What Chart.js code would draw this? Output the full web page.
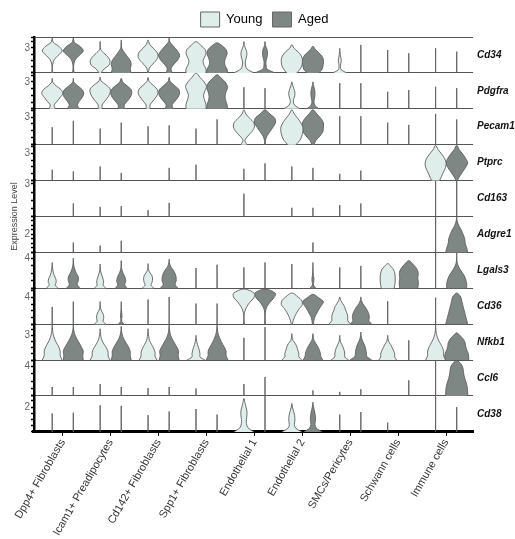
<!DOCTYPE html>
<html>
<head>
<meta charset="utf-8">
<script src="https://cdn.jsdelivr.net/npm/chart.js@4.4.1/dist/chart.umd.min.js"></script>
<style>
  html, body { margin: 0; padding: 0; background: #fff; }
</style>
</head>
<body>
<canvas id="violinChart" width="515" height="539"></canvas>
<script>
// stacked violin plot, young vs aged

var categories = ["Dpp4+ Fibroblasts", "Icam1+ Preadipocytes", "Cd142+ Fibroblasts", "Spp1+ Fibroblasts",
    "Endothelial 1", "Endothelial 2", "SMCs/Pericytes", "Schwann cells", "Immune cells"];
var groups = ["Young", "Aged"];
var genes = ["Cd34", "Pdgfra", "Pecam1", "Ptprc", "Cd163", "Adgre1", "Lgals3", "Cd36", "Nfkb1", "Ccl6", "Cd38"];
var geneMax = [4.3, 4.0, 3.9, 3.95, 3.3, 4.0, 4.8, 5.4, 4.35, 4.8, 2.9];
var geneTick = [3, 3, 3, 3, 3, 2, 4, 4, 3, 4, 2];

// one entry per cell type and group (Young, Aged, Young, Aged ...)
// number = thin spike up to that level, [top, densities from 0 up to top] = violin, null = nothing
var cd34 = [
    [4.2, 0.5, 0.3, 0.5, 2, 6, 10, 7, 1, 0], [4.2, 0.8, 0.3, 0.5, 2, 6, 10, 7, 1, 0],
    [3.75, 1, 4, 9, 10, 8, 4, 0.5, 0.2, 0], [3.95, 10, 9, 10, 9, 6, 3, 0.5, 0.2, 0],
    [3.95, 0.5, 1, 4, 8, 10, 9, 5, 1.5, 0], [4.3, 3, 2, 5, 9, 10.5, 8, 4, 0.5, 0],
    [3.75, 10, 10, 8, 7, 8.5, 10, 9, 5, 0], [3.6, 10.5, 10, 8, 7.5, 8.5, 10, 9.5, 6, 0],
    [3.75, 10, 3, 1.5, 1.5, 2.5, 3, 2, 0.5, 0], [3.75, 10, 2, 1, 1, 2, 2.5, 2, 0.5, 0],
    [3.4, 5, 8, 10, 10.5, 10.5, 9, 6, 2, 0], [3.2, 6, 9, 10, 10.5, 10.5, 9, 6, 2.5, 0],
    [2.95, 7, 1.5, 0.7, 1, 1.5, 1, 0.5, 0.2, 0], 3.35,
    2.75, 2.35,
    2.95, 2.55
];
var pdgfra = [
    [3.4, 3, 2, 5, 8, 10.5, 9, 4, 0.5, 0], [3.4, 6, 4, 6, 9, 10.5, 9, 4.5, 0.5, 0],
    [3.55, 2, 2, 5, 8, 10, 10, 6, 1, 0], [3.4, 3, 3, 6, 9, 10.5, 10, 6, 1.5, 0],
    [3.5, 2, 2, 5, 8, 10, 9, 5, 1, 0], [3.5, 4, 3, 6, 9, 10.5, 9.5, 5, 1, 0],
    [4.0, 10, 10, 8.5, 7.5, 9, 10.5, 8, 4, 0], [3.8, 10.5, 10, 8.5, 8, 9, 10.5, 9, 5, 0],
    2.4, 2.3,
    [3.0, 8, 3, 1.5, 2, 3, 3, 2, 0.8, 0], [3.0, 6, 2, 1, 1.5, 2, 2, 1.5, 0.5, 0],
    2.85, 2.85,
    1.9, 2.1,
    2.45, 2.3
];
var pecam1 = [
    1.9, 2.6,
    1.75, 2.4,
    2.0, 2.1,
    1.75, 2.75,
    [3.8, 3, 1, 4, 8, 10.5, 10, 6, 2, 0], [3.8, 0.5, 0.5, 2, 5, 8, 10.5, 10, 5, 0],
    [3.8, 4, 8, 10, 11, 11, 9, 6, 2.5, 0], [3.8, 1, 3, 7, 10, 10.5, 10.5, 8, 4, 0],
    3.1, 3.1,
    2.4, 2.15,
    3.35, 2.75
];
var ptprc = [
    1.2, 1.0,
    1.55, 0.85,
    null, 1.4,
    1.75, null,
    1.3, 1.9,
    1.55, 1.4,
    0.75, 1.1,
    null, null,
    [3.9, 4, 6, 8, 10, 10.5, 9, 6, 2.5, 0], [3.9, 0.5, 3, 6, 9, 11, 9, 6, 2.5, 0]
];
var cd163 = [
    null, 1.2,
    0.88, 0.95,
    0.57, 1.25,
    null, null,
    2.1, null,
    0.8, 0.8,
    1.05, 1.2,
    null, null,
    3.3, 3.3
];
var adgre1 = [
    null, 1.1,
    0.75, 1.3,
    null, null,
    null, null,
    null, null,
    null, 1.1,
    null, null,
    null, null,
    4.0, [4.0, 11, 10, 8.5, 8, 6.5, 4.5, 2, 0.5, 0]
];
var lgals3 = [
    [3.45, 6, 3, 4, 3.5, 2, 1, 0.5, 0.2, 0], [4.05, 7, 4, 5, 5, 3, 1.5, 0.5, 0.2, 0],
    [3.25, 6, 3, 3.5, 3, 2, 1, 0.3, 0.1, 0], [3.7, 6, 3.5, 4.5, 4, 2.5, 1, 0.3, 0.1, 0],
    [3.3, 6, 3, 4, 4.5, 4, 2, 0.5, 0.1, 0], [3.9, 9, 6, 7, 7, 6, 4, 1.5, 0.3, 0],
    2.7, 3.15,
    2.8, 3.45,
    3.25, [3.45, 3, 0.5, 0.8, 1, 0.5, 0.2, 0.1, 0, 0],
    2.8, 3.0,
    [3.3, 6.5, 7, 7.5, 7.5, 7.5, 7, 6, 3.5, 0], [3.7, 9, 9.5, 9.5, 9, 9.5, 9, 7, 4, 0],
    4.8, [4.8, 10, 10, 9, 7, 4, 1.5, 0.3, 0.1, 0]
];
var cd36 = [
    2.6, 3.4,
    [3.4, 6, 3, 3.5, 3.5, 2.5, 1, 0.3, 0.1, 0], [3.4, 3, 0.5, 0.5, 0.8, 0.5, 0.2, 0, 0, 0],
    3.7, 4.1,
    3.1, 3.1,
    [5.3, 0.5, 0.3, 0.3, 1, 3, 6, 10, 10.5, 0], [5.3, 0.3, 0.3, 0.3, 0.5, 2, 5, 9, 10.5, 0],
    [4.7, 0.5, 1.5, 3, 5, 7.5, 10.5, 10, 6, 0], [4.5, 0.5, 1, 2, 4, 6, 8.5, 10.5, 6, 0],
    [4.1, 11, 8, 8, 7.5, 6, 5, 3, 1, 0], [4.1, 11, 8, 8.5, 8, 6.5, 4.5, 2, 0.5, 0],
    3.45, null,
    4.0, [4.7, 11, 10, 9, 8, 7, 6, 5, 4, 0]
];
var nfkb1 = [
    [4.3, 10, 8, 8, 6.5, 4, 2, 0.8, 0.3, 0], [4.3, 10, 9.5, 10, 8, 5.5, 3, 1.2, 0.3, 0],
    [3.8, 10, 8, 8, 6.5, 4, 2, 0.8, 0.3, 0], [4.1, 10, 9, 9, 7.5, 5, 2.5, 1, 0.3, 0],
    [3.8, 9, 7, 7, 5.5, 3.5, 1.5, 0.7, 0.3, 0], [4.3, 10, 9, 9.5, 7.5, 5, 2.5, 1, 0.3, 0],
    [3.0, 9, 4, 4, 3.5, 2.5, 1.5, 0.7, 0.3, 0], [4.3, 11, 9, 9, 7, 4.5, 2.5, 1, 0.3, 0],
    2.7, 4.0,
    [3.2, 10, 7, 7, 6, 5, 3.5, 1, 0.3, 0], [3.2, 10, 8, 7.5, 6.5, 5, 3, 1, 0.3, 0],
    [3.0, 9, 5, 5, 4.5, 3.5, 2, 0.7, 0.2, 0], [3.4, 11, 6, 5.5, 5, 4, 2.5, 1, 0.3, 0],
    [3.0, 9, 7, 7, 6, 4.5, 3, 1, 0.3, 0], 2.4,
    [4.3, 10, 8, 8, 6.5, 4, 2, 0.7, 0.2, 0], [3.3, 12, 12, 11.5, 10, 9, 8.5, 7, 4, 0]
];
var ccl6 = [
    1.2, 1.2,
    1.6, 1.2,
    1.05, 1.2,
    1.0, null,
    1.6, 2.55,
    null, 0.75,
    0.55, 0.9,
    null, 2.1,
    4.8, [4.75, 11, 11, 10.5, 9.5, 8, 7, 6.5, 5, 0]
];
var cd38 = [
    1.5, 1.55,
    2.15, 2.1,
    1.35, 1.65,
    1.85, 1.4,
    [2.7, 10, 4, 2.5, 2.5, 3, 3, 2, 1, 0], 2.9,
    [2.3, 10, 4, 2.5, 3, 3, 2.5, 1.5, 0.5, 0], [2.4, 9, 3.5, 2, 2.5, 2.5, 2, 1.2, 0.4, 0],
    1.4, 1.6,
    0.75, null,
    2.9, 2.0
];
var rows = [cd34, pdgfra, pecam1, ptprc, cd163, adgre1, lgals3, cd36, nfkb1, ccl6, cd38];

var fills = ['#e0eeeb', '#7f8784'];
var outline = '#5e5e5e';
var widthScale = 1 / 48;   // density units -> x units
var groupOffset = 0.22;

function violinPoints(center, v) {
    var top, w;
    if (typeof v === 'number') {
        top = v;
        w = [0, 0, 0, 0, 0, 0, 0, 0, 0];
    } else {
        top = v[0];
        w = v.slice(1);
    }
    var n = w.length - 1;
    var pts = [];
    for (var i = 0; i <= n; i++) pts.push({x: center + w[i] * widthScale, y: top * i / n});
    for (var j = n - 1; j >= 0; j--) pts.push({x: center - w[j] * widthScale, y: top * j / n});
    return pts;
}

var datasets = [];
rows.forEach(function (row, r) {
    row.forEach(function (v, k) {
        if (v === null) return;
        var cat = Math.floor(k / 2);
        var grp = k % 2;
        var center = cat + 1 + (grp === 0 ? -groupOffset : groupOffset);
        datasets.push({
            label: genes[r] + ' ' + categories[cat] + ' ' + groups[grp],
            data: violinPoints(center, v),
            yAxisID: 'y' + r,
            xAxisID: 'x',
            borderColor: outline,
            borderWidth: 0.9,
            backgroundColor: fills[grp],
            fill: 'shape',
            pointRadius: 0,
            pointHoverRadius: 0,
            tension: typeof v === 'number' ? 0 : 0.3
        });
    });
});

var scales = {
    x: {
        type: 'linear',
        position: 'bottom',
        min: 0.4,
        max: 9.56,
        afterBuildTicks: function (ax) {
            ax.ticks = categories.map(function (c, i) { return {value: i + 1}; });
        },
        ticks: {
            autoSkip: false,
            minRotation: 60,
            maxRotation: 60,
            color: '#333',
            padding: 1,
            font: {family: 'Liberation Sans', size: 11},
            callback: function (value, index) { return categories[index]; }
        },
        grid: {drawOnChartArea: false, tickLength: 4, tickColor: '#000', tickWidth: 1},
        border: {color: '#000', width: 3}
    },
    yR: {
        type: 'linear',
        position: 'right',
        display: true,
        ticks: {display: false},
        grid: {display: false},
        border: {display: false},
        afterFit: function (ax) { ax.width = 42; }
    }
};

// last defined axis is placed on top of the stack, so go bottom row first
for (var r = genes.length - 1; r >= 0; r--) {
    (function (i) {
        scales['y' + i] = {
            type: 'linear',
            position: 'left',
            stack: 'rows',
            stackWeight: 1,
            min: 0,
            max: geneMax[i],
            afterBuildTicks: function (ax) {
                var step = geneTick[i] / 4;
                var t = [];
                for (var v = 0; v < geneMax[i] - 0.01; v += step) t.push({value: Math.round(v * 100) / 100});
                t.push({value: geneMax[i]});
                ax.ticks = t;
            },
            afterFit: function (ax) { ax.width = 20; },
            ticks: {
                autoSkip: false,
                padding: 1,
                color: '#666',
                font: {family: 'Liberation Sans', size: 10},
                callback: function (value) { return value === geneTick[i] ? String(value) : ''; }
            },
            grid: {
                drawOnChartArea: true,
                lineWidth: 1,
                color: function (ctx) {
                    if (!ctx.tick) return 'rgba(0,0,0,0)';
                    return (ctx.tick.value === 0 || ctx.tick.value === geneMax[i]) ? '#555' : 'rgba(0,0,0,0)';
                },
                tickColor: '#000',
                tickLength: 3,
                tickWidth: 1.5
            },
            border: {color: '#000', width: 2.5}
        };
    })(r);
}

var textPlugin = {
    id: 'rowText',
    afterDraw: function (chart) {
        var ctx = chart.ctx;
        var area = chart.chartArea;
        ctx.save();
        ctx.fillStyle = '#111';
        ctx.font = 'italic bold 10px "Liberation Sans", Arial, sans-serif';
        ctx.textBaseline = 'middle';
        ctx.textAlign = 'left';
        genes.forEach(function (g, i) {
            var s = chart.scales['y' + i];
            ctx.fillText(g, area.right + 4, (s.top + s.bottom) / 2);
        });
        var mid = chart.scales.y4.bottom;
        ctx.translate(15, mid);
        ctx.rotate(-Math.PI / 2);
        ctx.font = '9px "Liberation Sans", Arial, sans-serif';
        ctx.fillStyle = '#444';
        ctx.textAlign = 'center';
        ctx.fillText('Expression Level', 0, 0);
        ctx.restore();
    }
};

var ctxV = document.getElementById('violinChart').getContext('2d');
var myViolinChart = new Chart(ctxV, {
    type: 'line',
    data: {datasets: datasets},
    options: {
        responsive: false,
        animation: false,
        events: [],
        layout: {padding: {left: 14, right: 0, top: 2, bottom: 0}},
        plugins: {
            tooltip: {enabled: false},
            legend: {
                position: 'top',
                onClick: null,
                labels: {
                    boxWidth: 19,
                    boxHeight: 15,
                    padding: 10,
                    color: '#222',
                    font: {family: 'Liberation Sans', size: 13},
                    generateLabels: function () {
                        return groups.map(function (g, i) {
                            return {text: g, fillStyle: fills[i], strokeStyle: '#666', lineWidth: 1, hidden: false, datasetIndex: i};
                        });
                    }
                }
            }
        },
        scales: scales
    },
    plugins: [textPlugin]
});
</script>
</body>
</html>
